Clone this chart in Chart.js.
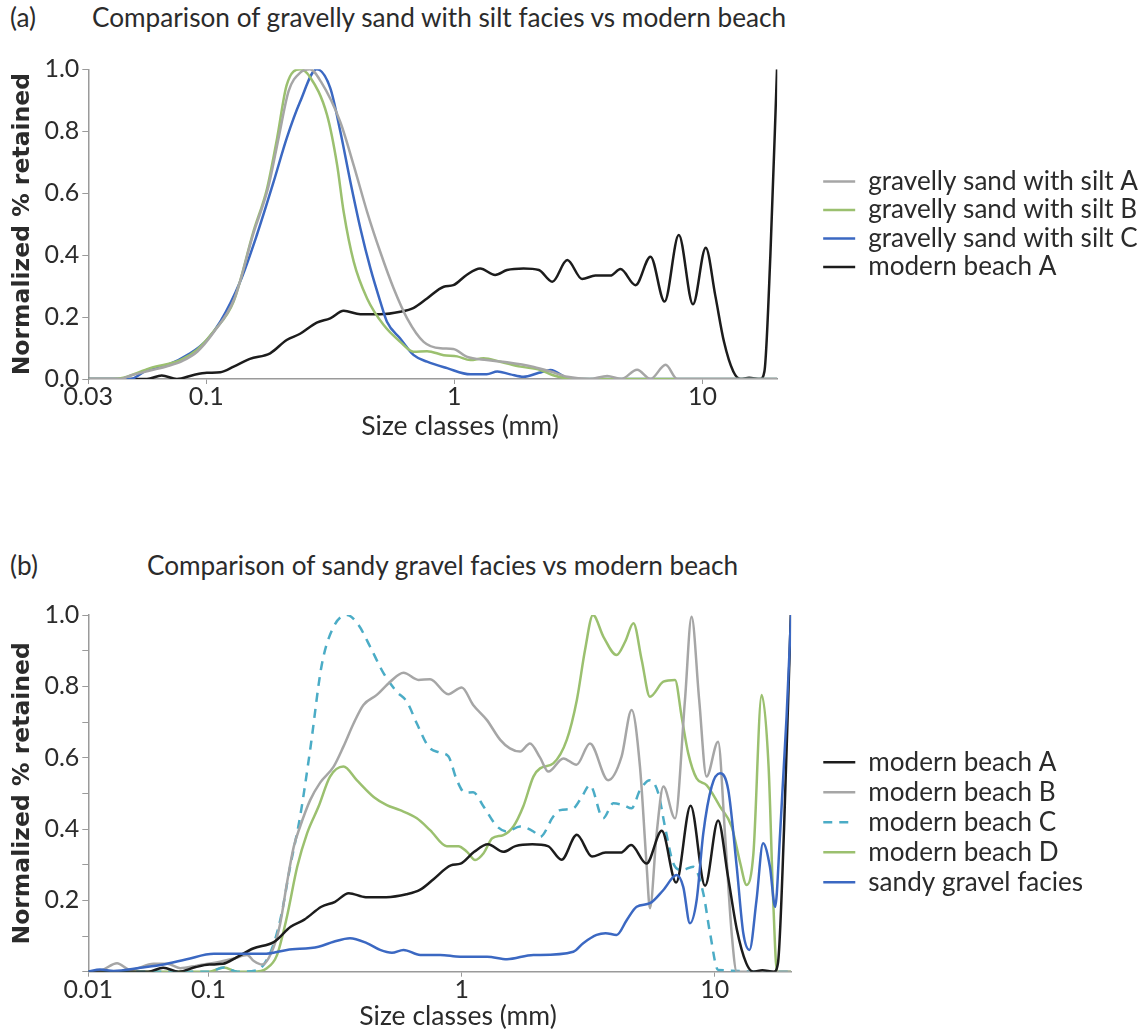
<!DOCTYPE html>
<html>
<head>
<meta charset="utf-8">
<title>Size class comparison</title>
<script src="https://cdn.jsdelivr.net/npm/chart.js@4.4.1/dist/chart.umd.min.js"></script>
<style>
  body { margin: 0; background: #fff; }
  #page { position: relative; width: 1148px; height: 1033px; overflow: hidden; font-family: Lato, 'Open Sans', sans-serif; color: #2b2b2b; }
  .txt { position: absolute; white-space: nowrap; line-height: 1; }
  .head { font-size: 26.2px; }
  .xtitle { font-size: 26.5px; transform: translateX(-50%); }
  canvas { position: absolute; left: 0; }
</style>
</head>
<body>
<div id="page">
  <div class="txt head" style="left:10px; top:3.5px;">(a)</div>
  <div class="txt head" style="left:92px; top:3.5px;">Comparison of gravelly sand with silt facies vs modern beach</div>
  <canvas id="chartA" width="1148" height="410" style="top:40px"></canvas>
  <div class="txt xtitle" style="left:460px; top:411.5px;">Size classes (mm)</div>

  <div class="txt head" style="left:10px; top:552px;">(b)</div>
  <div class="txt head" style="left:147px; top:552px;">Comparison of sandy gravel facies vs modern beach</div>
  <canvas id="chartB" width="1148" height="453" style="top:580px"></canvas>
  <div class="txt xtitle" style="left:458px; top:1001.5px;">Size classes (mm)</div>
</div>

<script>
// axis ticks
const xTicks = [0.0335, 0.1, 1, 10];
const xTickLabelsA = ['0.03', '0.1', '1', '10'];
const xTickLabelsB = ['0.01', '0.1', '1', '10'];
const yTickLabelsA = ['0.0', '', '0.2', '', '0.4', '', '0.6', '', '0.8', '', '1.0'];
const yTickLabelsB = ['', '', '0.2', '', '0.4', '', '0.6', '', '0.8', '', '1.0'];

// (a) gravelly sand with silt A
const siltA_x = [0.0335, 0.045, 0.05, 0.06, 0.07, 0.08, 0.092, 0.107, 0.13, 0.155, 0.178, 0.196, 0.215, 0.24, 0.262, 0.29, 0.347, 0.393, 0.445, 0.503, 0.569, 0.645, 0.752, 0.879, 0.99, 1.12, 1.35, 1.63, 2.09, 2.44, 2.85, 3.5, 4.13, 4.7, 5.45, 6.17, 7.1, 7.9, 20];
const siltA_y = [0, 0, 0.012, 0.028, 0.042, 0.058, 0.088, 0.15, 0.26, 0.47, 0.62, 0.78, 0.93, 0.99, 1.0, 0.96, 0.83, 0.69, 0.54, 0.41, 0.293, 0.196, 0.12, 0.099, 0.097, 0.072, 0.061, 0.054, 0.039, 0.024, 0.007, 0, 0.01, 0, 0.03, 0, 0.046, 0, 0];

// (a) gravelly sand with silt B
const siltB_x = [0.0335, 0.042, 0.0464, 0.0594, 0.0786, 0.0917, 0.107, 0.129, 0.155, 0.176, 0.193, 0.211, 0.239, 0.262, 0.307, 0.337, 0.358, 0.393, 0.445, 0.519, 0.605, 0.685, 0.776, 0.906, 1.026, 1.16, 1.31, 1.53, 1.85, 2.22, 2.5, 3.0, 20];
const siltB_y = [0, 0, 0.004, 0.035, 0.061, 0.094, 0.153, 0.25, 0.476, 0.616, 0.777, 0.949, 1.0, 0.975, 0.852, 0.691, 0.54, 0.379, 0.26, 0.174, 0.12, 0.088, 0.09, 0.077, 0.073, 0.061, 0.067, 0.056, 0.04, 0.029, 0.012, 0, 0];

// (a) gravelly sand with silt C
const siltC_x = [0.0335, 0.045, 0.0494, 0.0577, 0.0695, 0.0862, 0.1006, 0.114, 0.137, 0.16, 0.187, 0.211, 0.239, 0.279, 0.316, 0.347, 0.381, 0.418, 0.459, 0.503, 0.535, 0.605, 0.686, 0.776, 0.935, 1.16, 1.35, 1.49, 1.68, 1.9, 2.19, 2.44, 2.94, 20];
const siltC_y = [0, 0, 0, 0.029, 0.045, 0.083, 0.126, 0.185, 0.314, 0.465, 0.637, 0.777, 0.895, 1.0, 0.94, 0.8, 0.637, 0.487, 0.357, 0.25, 0.185, 0.131, 0.077, 0.056, 0.035, 0.015, 0.015, 0.024, 0.015, 0.007, 0.02, 0.029, 0, 0];

// modern beach A (same sample in both panels)
const beachA_x = [0.0335, 0.0577, 0.0662, 0.0762, 0.089, 0.1006, 0.114, 0.129, 0.15, 0.181, 0.211, 0.239, 0.279, 0.316, 0.358, 0.418, 0.503, 0.605, 0.686, 0.776, 0.906, 0.99, 1.12, 1.27, 1.46, 1.63, 1.9, 2.19, 2.48, 2.85, 3.27, 3.7, 4.25, 4.67, 5.37, 6.17, 7.03, 8.02, 9.15, 10.3, 11.25, 12.2, 13.3, 14.2, 15.4, 17.1, 17.75, 18.76, 19.95];
const beachA_y = [0, 0, 0.011, 0, 0.013, 0.02, 0.022, 0.04, 0.065, 0.083, 0.126, 0.146, 0.182, 0.196, 0.22, 0.209, 0.209, 0.217, 0.23, 0.26, 0.298, 0.303, 0.336, 0.357, 0.336, 0.352, 0.357, 0.352, 0.314, 0.384, 0.323, 0.334, 0.334, 0.355, 0.303, 0.395, 0.25, 0.465, 0.241, 0.424, 0.27, 0.12, 0.024, 0, 0.004, 0, 0.024, 0.4, 1.0];

// (b) modern beach B
const beachB_x = [0.0335, 0.038, 0.0435, 0.049, 0.0607, 0.0686, 0.0773, 0.09, 0.111, 0.126, 0.142, 0.151, 0.163, 0.181, 0.192, 0.204, 0.217, 0.23, 0.252, 0.276, 0.312, 0.341, 0.374, 0.409, 0.462, 0.522, 0.589, 0.675, 0.75, 0.885, 1.0, 1.11, 1.256, 1.42, 1.55, 1.7, 1.86, 2.04, 2.2, 2.52, 2.84, 3.21, 3.79, 4.28, 4.69, 5.06, 5.38, 5.54, 5.89, 6.26, 6.96, 7.62, 8.09, 8.67, 9.27, 10.3, 10.96, 11.65, 12.2, 20];
const beachB_y = [0, 0.005, 0.024, 0.005, 0.022, 0.022, 0.01, 0.017, 0.028, 0.037, 0.047, 0.03, 0.02, 0.07, 0.136, 0.248, 0.35, 0.407, 0.481, 0.53, 0.575, 0.631, 0.696, 0.748, 0.776, 0.813, 0.838, 0.818, 0.82, 0.778, 0.797, 0.748, 0.706, 0.65, 0.626, 0.617, 0.64, 0.6, 0.561, 0.598, 0.58, 0.64, 0.537, 0.603, 0.734, 0.575, 0.294, 0.178, 0.388, 0.519, 0.43, 0.762, 0.995, 0.762, 0.547, 0.645, 0.388, 0.108, 0, 0];

// (b) modern beach C
const beachC_x = [0.0335, 0.1, 0.115, 0.13, 0.155, 0.175, 0.192, 0.21, 0.23, 0.252, 0.28, 0.312, 0.352, 0.391, 0.435, 0.491, 0.554, 0.607, 0.665, 0.739, 0.822, 0.887, 0.957, 1.03, 1.11, 1.22, 1.38, 1.51, 1.7, 1.92, 2.04, 2.3, 2.45, 2.76, 2.98, 3.21, 3.62, 3.97, 4.35, 4.69, 5.06, 5.54, 5.98, 6.35, 6.85, 7.4, 8.22, 9.0, 9.57, 10.3, 20];
const beachC_y = [0, 0, 0.012, 0, 0.004, 0.052, 0.145, 0.294, 0.435, 0.622, 0.86, 0.967, 1.0, 0.972, 0.911, 0.837, 0.785, 0.757, 0.696, 0.631, 0.614, 0.603, 0.537, 0.502, 0.503, 0.463, 0.407, 0.393, 0.407, 0.393, 0.378, 0.435, 0.453, 0.458, 0.49, 0.523, 0.43, 0.472, 0.467, 0.458, 0.509, 0.537, 0.5, 0.407, 0.304, 0.285, 0.294, 0.22, 0.108, 0.005, 0];

// (b) modern beach D
const beachD_x = [0.0335, 0.1, 0.115, 0.13, 0.15, 0.17, 0.186, 0.204, 0.224, 0.245, 0.272, 0.302, 0.341, 0.385, 0.449, 0.506, 0.571, 0.665, 0.75, 0.873, 0.97, 1.05, 1.13, 1.22, 1.32, 1.46, 1.6, 1.75, 1.92, 2.04, 2.3, 2.6, 2.85, 3.07, 3.3, 3.63, 4.09, 4.42, 4.77, 5.14, 5.54, 6.26, 6.96, 7.39, 7.85, 8.47, 9.27, 10.48, 11.65, 12.6, 13.35, 14.2, 15.3, 16.3, 17.0, 17.6, 20];
const beachD_y = [0, 0, 0.012, 0, 0, 0.01, 0.045, 0.154, 0.294, 0.388, 0.463, 0.547, 0.575, 0.537, 0.49, 0.467, 0.453, 0.43, 0.397, 0.352, 0.352, 0.336, 0.313, 0.332, 0.374, 0.383, 0.407, 0.463, 0.547, 0.57, 0.584, 0.65, 0.762, 0.902, 1.0, 0.939, 0.888, 0.925, 0.977, 0.874, 0.771, 0.813, 0.818, 0.715, 0.612, 0.542, 0.523, 0.463, 0.407, 0.304, 0.243, 0.332, 0.776, 0.575, 0.2, 0, 0];

// (b) sandy gravel facies
const sandyGravel_x = [0.0335, 0.0373, 0.0422, 0.0538, 0.0664, 0.082, 0.105, 0.133, 0.165, 0.204, 0.272, 0.312, 0.362, 0.422, 0.476, 0.53, 0.589, 0.686, 0.822, 0.986, 1.26, 1.51, 1.92, 2.04, 2.76, 3.02, 3.41, 3.7, 4.09, 4.49, 4.91, 5.54, 6.26, 7.06, 7.5, 7.97, 8.47, 9.0, 9.71, 10.48, 11.3, 12.2, 12.95, 13.7, 14.6, 15.5, 16.5, 17.3, 18.1, 19.2, 20];
const sandyGravel_y = [0, 0.006, 0.002, 0.011, 0.02, 0.035, 0.05, 0.05, 0.05, 0.061, 0.07, 0.084, 0.094, 0.08, 0.061, 0.053, 0.061, 0.047, 0.047, 0.042, 0.042, 0.035, 0.047, 0.047, 0.056, 0.08, 0.103, 0.108, 0.103, 0.145, 0.182, 0.192, 0.229, 0.271, 0.238, 0.136, 0.2, 0.388, 0.519, 0.556, 0.509, 0.294, 0.108, 0.061, 0.2, 0.36, 0.294, 0.182, 0.388, 0.715, 1.0];

const GRAY = '#a6a6a6';
const GREEN = '#9bc06f';
const BLUE = '#3b68c2';
const BLACK = '#1c1c1c';
const CYAN = '#4bacc6';
const AXIS = '#9a9a9a';
const TEXT = '#2b2b2b';

function pts(xs, ys) {
  return xs.map((x, i) => ({ x: x, y: ys[i] }));
}

function series(label, xs, ys, color, extra) {
  return Object.assign({
    label: label,
    data: pts(xs, ys),
    borderColor: color,
    backgroundColor: color,
    borderWidth: 2.5,
    pointRadius: 0,
    cubicInterpolationMode: 'monotone'
  }, extra || {});
}

function drawPanel(canvasId, datasets, cfg) {
  const ctx = document.getElementById(canvasId).getContext('2d');
  return new Chart(ctx, {
    type: 'line',
    data: { datasets: datasets },
    options: {
      responsive: false,
      animation: false,
      layout: { padding: { top: cfg.padTop, bottom: cfg.padBottom, left: 0, right: cfg.padRight } },
      plugins: {
        tooltip: { enabled: false },
        legend: {
          position: 'right',
          align: 'center',
          fullSize: false,
          maxWidth: 420,
          // an empty title only pushes the entries down a little
          title: { display: cfg.legendShift > 0, text: ' ', font: { size: 10 }, padding: { top: cfg.legendShift / 2, bottom: cfg.legendShift / 2 - 12 } },
          labels: {
            usePointStyle: true,
            pointStyleWidth: 32,
            padding: cfg.rowGap,
            color: TEXT,
            font: { family: 'Lato', size: 26.1 },
            sort: (a, b) => a.datasetIndex - b.datasetIndex,
            generateLabels: (chart) => {
              const items = Chart.defaults.plugins.legend.labels.generateLabels(chart);
              items.forEach((item) => {
                const ds = chart.data.datasets[item.datasetIndex];
                item.pointStyle = 'line';
                item.lineDash = ds.borderDash || [];
                item.lineWidth = ds.borderWidth;
                item.strokeStyle = ds.borderColor;
              });
              return items;
            }
          }
        }
      },
      scales: {
        x: {
          type: 'logarithmic',
          min: 0.0335,
          max: 20,
          afterBuildTicks: (scale) => { scale.ticks = xTicks.map((v) => ({ value: v })); },
          afterFit: (scale) => { scale.height = 40; },
          ticks: {
            autoSkip: false,
            maxRotation: 0,
            padding: -2,
            color: TEXT,
            font: { family: 'Lato', size: 25 },
            callback: (value, index) => cfg.xLabels[index]
          },
          grid: { drawOnChartArea: false, drawTicks: true, tickLength: 5, color: AXIS },
          border: { color: AXIS, width: 1.5 }
        },
        y: {
          min: 0,
          max: 1,
          afterFit: (scale) => { scale.width = 88.3; },
          ticks: {
            stepSize: 0.1,
            padding: 3,
            color: TEXT,
            font: { family: 'Lato', size: 25 },
            callback: (value) => cfg.yLabels[Math.round(value * 10)]
          },
          grid: { drawOnChartArea: false, drawTicks: true, tickLength: 6, color: AXIS },
          border: { color: AXIS, width: 1.5 },
          title: {
            display: true,
            text: 'Normalized % retained',
            color: TEXT,
            font: { family: 'DejaVu Sans', weight: 'bold', size: 23.5 },
            padding: { top: 9, bottom: 0 }
          }
        },
        gap: {
          type: 'linear',
          position: 'right',
          display: true,
          afterFit: (scale) => { scale.width = cfg.gapWidth; },
          ticks: { display: false },
          grid: { display: false, drawTicks: false },
          border: { display: false }
        }
      }
    }
  });
}

window.onload = function () {
  drawPanel('chartA', [
    series('gravelly sand with silt A', siltA_x, siltA_y, GRAY),
    series('gravelly sand with silt B', siltB_x, siltB_y, GREEN),
    series('gravelly sand with silt C', siltC_x, siltC_y, BLUE),
    series('modern beach A', beachA_x, beachA_y, BLACK)
  ], {
    padTop: 29.3, padBottom: 31, padRight: 0, gapWidth: 43.5,
    rowGap: 2.4, legendShift: 0,
    xLabels: xTickLabelsA, yLabels: yTickLabelsA
  });

  drawPanel('chartB', [
    series('modern beach A', beachA_x, beachA_y, BLACK, { order: 1 }),
    series('modern beach B', beachB_x, beachB_y, GRAY, { order: 2 }),
    series('modern beach C', beachC_x, beachC_y, CYAN, { order: 3, borderDash: [9, 7] }),
    series('modern beach D', beachD_x, beachD_y, GREEN, { order: 4 }),
    series('sandy gravel facies', sandyGravel_x, sandyGravel_y, BLUE, { order: 0 })
  ], {
    padTop: 35, padBottom: 21.3, padRight: 55, gapWidth: 28.3,
    rowGap: 3.9, legendShift: 58,
    xLabels: xTickLabelsB, yLabels: yTickLabelsB
  });
};
</script>
</body>
</html>
